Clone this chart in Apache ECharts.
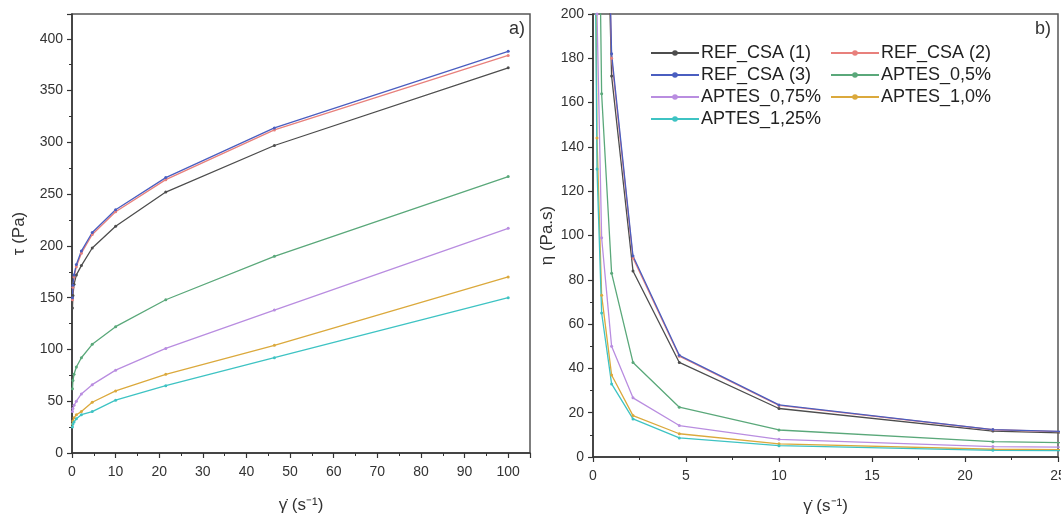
<!DOCTYPE html>
<html>
<head>
<meta charset="utf-8">
<script src="https://cdn.jsdelivr.net/npm/echarts@6/dist/echarts.min.js"></script>
<style>
html,body{margin:0;padding:0;background:#fff;}
#c{width:1061px;height:516px;}
</style>
</head>
<body>
<div id="c"></div>
<script>
// shear rates (s^-1)
const shearRates = [0.1, 0.215, 0.464, 1, 2.15, 4.64, 10, 21.5, 46.4, 100];

// shear stress tau (Pa), panel a)
const tauRef1   = [140, 152, 163, 172, 181, 198, 219, 252, 297, 372];
const tauRef2   = [148, 160, 170, 180, 193, 211, 233, 264, 312, 384];
const tauRef3   = [150, 162, 172, 182, 195, 213, 235, 266, 314, 388];
const tauA050   = [62, 70, 76, 83, 92, 105, 122, 148, 190, 267];
const tauA075   = [40, 43, 46, 50, 57, 66, 80, 101, 138, 217];
const tauA100   = [28, 31, 34, 37, 40, 49, 60, 76, 104, 170];
const tauA125   = [25, 28, 30, 33, 37, 40, 51, 65, 92, 150];

// viscosity eta (Pa.s), panel b)
const etaRef1   = [1400, 707, 351, 172, 84, 42.7, 21.9, 11.7, 6.4, 3.72];
const etaRef2   = [1480, 744, 366, 180, 89.8, 45.5, 23.3, 12.3, 6.7, 3.84];
const etaRef3   = [1500, 753, 371, 182, 90.7, 45.9, 23.5, 12.4, 6.8, 3.88];
const etaA050   = [620, 326, 164, 83, 42.7, 22.5, 12.2, 6.9, 4.1, 2.67];
const etaA075   = [400, 200, 99, 50, 26.7, 14.2, 8.0, 4.7, 3.0, 2.17];
const etaA100   = [280, 144, 73, 37, 18.7, 10.5, 5.95, 3.5, 2.24, 1.7];
const etaA125   = [250, 130, 65, 33, 17.2, 8.6, 5.1, 3.0, 1.98, 1.5];

const seriesNames = ['REF_CSA (1)', 'REF_CSA (2)', 'REF_CSA (3)', 'APTES_0,5%', 'APTES_0,75%', 'APTES_1,0%', 'APTES_1,25%'];
const colors = ['#4d4d4d', '#e8807c', '#4a5ec0', '#5aa87a', '#b98de0', '#dba93c', '#3ec3c3'];
const tauSets = [tauRef1, tauRef2, tauRef3, tauA050, tauA075, tauA100, tauA125];
const etaSets = [etaRef1, etaRef2, etaRef3, etaA050, etaA075, etaA100, etaA125];

const FONT = 'Liberation Sans, Arial, sans-serif';
const pair = arr => shearRates.map((x, i) => [x, arr[i]]);

function axisBase(extra) {
  return Object.assign({
    type: 'value',
    axisLine: {show: true, lineStyle: {color: '#333', width: 1.5}},
    axisTick: {show: true, inside: false, length: 5, lineStyle: {color: '#333', width: 1.2}},
    minorTick: {show: true, splitNumber: 2, length: 3, lineStyle: {color: '#333', width: 1}},
    splitLine: {show: false},
    axisLabel: {color: '#333', fontSize: 14, fontFamily: FONT, margin: 9},
    nameTextStyle: {color: '#333', fontSize: 17, fontFamily: FONT},
    nameLocation: 'middle'
  }, extra);
}

const series = [];
seriesNames.forEach((name, k) => {
  const common = {
    name: name, type: 'line', symbol: 'circle', symbolSize: 3,
    lineStyle: {width: 1.3, color: colors[k]},
    itemStyle: {color: colors[k]},
    emphasis: {disabled: true}, animation: false, clip: true
  };
  series.push(Object.assign({}, common, {xAxisIndex: 0, yAxisIndex: 0, data: pair(tauSets[k])}));
  series.push(Object.assign({}, common, {xAxisIndex: 1, yAxisIndex: 1, data: pair(etaSets[k])}));
});

const legendCommon = {
  orient: 'vertical', top: 44, padding: 0, itemWidth: 48, itemHeight: 7, itemGap: 4,
  textStyle: {fontSize: 18, fontFamily: FONT, color: '#222', padding: [0, 0, 0, -3]}
};

const option = {
  backgroundColor: '#fff',
  animation: false,
  grid: [
    {left: 72, top: 14, width: 458, height: 439, show: true, borderColor: '#555', borderWidth: 1.5, outerBoundsMode: 'none', containLabel: false},
    {left: 593, top: 14, width: 465, height: 443, show: true, borderColor: '#555', borderWidth: 1.5, outerBoundsMode: 'none', containLabel: false}
  ],
  xAxis: [
    axisBase({gridIndex: 0, min: 0, max: 105, interval: 10, name: 'γ̇ (s⁻¹)', nameGap: 44,
      axisLabel: {color: '#333', fontSize: 14, fontFamily: FONT, margin: 12, formatter: v => (v % 10 === 0 ? v : '')}}),
    axisBase({gridIndex: 1, min: 0, max: 25, interval: 5, name: 'γ̇ (s⁻¹)', nameGap: 41,
      axisLabel: {color: '#333', fontSize: 14, fontFamily: FONT, margin: 12}})
  ],
  yAxis: [
    axisBase({gridIndex: 0, min: 0, max: 424, interval: 50, name: 'τ (Pa)', nameGap: 44, nameRotate: 90,
      axisLabel: {color: '#333', fontSize: 14, fontFamily: FONT, margin: 9, formatter: v => (v % 50 === 0 ? v : '')}}),
    axisBase({gridIndex: 1, min: 0, max: 200, interval: 20, name: 'η (Pa.s)', nameGap: 37, nameRotate: 90})
  ],
  legend: [
    Object.assign({}, legendCommon, {left: 650, data: ['REF_CSA (1)', 'REF_CSA (3)', 'APTES_0,75%', 'APTES_1,25%']}),
    Object.assign({}, legendCommon, {left: 830, data: ['REF_CSA (2)', 'APTES_0,5%', 'APTES_1,0%']})
  ],
  graphic: [
    {type: 'text', right: 536, top: 20, style: {text: 'a)', font: '18px ' + FONT, fill: '#333'}},
    {type: 'text', right: 10, top: 20, style: {text: 'b)', font: '18px ' + FONT, fill: '#333'}}
  ],
  series: series
};

const chart = echarts.init(document.getElementById('c'), null, {renderer: 'canvas'});
chart.setOption(option);
</script>
</body>
</html>
